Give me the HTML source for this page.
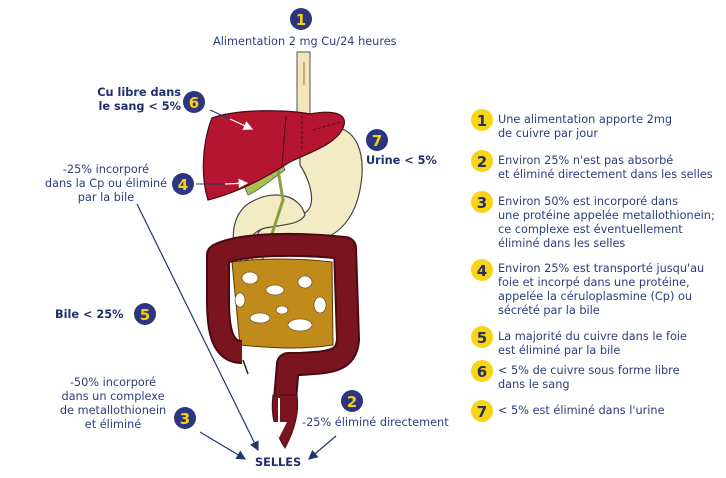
<!DOCTYPE html>
<html><head><meta charset="utf-8"><style>
body{margin:0;width:726px;height:478px;background:#fff;position:relative;overflow:hidden;font-family:"DejaVu Sans","Liberation Sans",sans-serif;color:#2c3d7c;font-size:11.3px}
.t{position:absolute;line-height:14px;white-space:nowrap}
.b{font-weight:bold;color:#1f2f6e}
.r{text-align:right}
.c{text-align:center}
</style></head><body>
<svg width="726" height="478" style="position:absolute;left:0;top:0">
<defs>
<marker id="a" markerWidth="8" markerHeight="8" refX="7" refY="4" orient="auto"><path d="M0,0 L8,4 L0,8 Z" fill="#24346f"/></marker>
<marker id="w" markerWidth="8" markerHeight="8" refX="7" refY="4" orient="auto"><path d="M0,0 L8,4 L0,8 Z" fill="#fff"/></marker>
</defs>
<rect x="297" y="52" width="13" height="100" fill="#efe6bb" stroke="#555" stroke-width="1"/>
<path d="M300,140 C330,115 365,125 362,175 C358,225 330,245 300,240 C280,238 265,245 262,262 L252,262 C250,225 275,215 300,215 C320,210 310,180 300,165 Z" fill="#f2ebc3" stroke="#444" stroke-width="1.2"/>
<path d="M255,200 C275,190 300,195 305,215 C300,225 280,225 265,228 C250,232 240,250 250,258 L242,262 C228,245 230,210 255,200 Z" fill="#f2ebc3" stroke="#444" stroke-width="1.2"/>
<path d="M243,183 C255,175 265,165 280,160 L285,170 C270,180 260,190 248,195 Z" fill="#a8c050" stroke="#555" stroke-width="0.8"/>
<path d="M278,170 L283,200 L270,240" stroke="#8aa040" stroke-width="3" fill="none"/>
<path d="M212,118 C240,108 290,110 310,114 C330,110 350,112 343,128 C335,145 310,152 290,162 C270,175 240,192 208,200 C200,175 203,140 212,118 Z" fill="#b51530" stroke="#4a0a14" stroke-width="1.2"/>
<path d="M286,116 L282,166" stroke="#4a0a14" stroke-width="1"/>
<path d="M302,116 L302,150 M313,130 L340,122" stroke="#4a0a14" stroke-width="1" stroke-dasharray="3,2"/>
<path d="M232,262 C260,258 300,258 332,262 L333,345 C300,350 270,348 240,345 Z" fill="#c18b1c" stroke="#5a3a05" stroke-width="1"/>
<g fill="#fff" stroke="#5a3a05" stroke-width="0.6"><ellipse cx="250" cy="278" rx="8" ry="6"/><ellipse cx="275" cy="290" rx="9" ry="5"/><ellipse cx="305" cy="282" rx="7" ry="6"/><ellipse cx="260" cy="318" rx="10" ry="5"/><ellipse cx="300" cy="325" rx="12" ry="6"/><ellipse cx="320" cy="305" rx="6" ry="8"/><ellipse cx="240" cy="300" rx="5" ry="7"/><ellipse cx="282" cy="310" rx="6" ry="4"/></g>
<path d="M242,352 C222,352 218,330 218,300 L218,255 C240,243 300,243 345,248 L348,340 C346,362 330,362 300,364 L288,364 L285,400" fill="none" stroke="#4a0a12" stroke-width="24" stroke-linejoin="round"/>
<path d="M242,352 C222,352 218,330 218,300 L218,255 C240,243 300,243 345,248 L348,340 C346,362 330,362 300,364 L288,364 L285,400" fill="none" stroke="#7a1520" stroke-width="20" stroke-linejoin="round"/>
<path d="M273,395 L297,395 C300,415 292,435 285,448 C276,435 270,415 273,395 Z" fill="#7a1520" stroke="#4a0a12"/>
<line x1="243" y1="360" x2="248" y2="374" stroke="#222" stroke-width="1.5"/>
<line x1="279" y1="398" x2="279" y2="436" stroke="#fff" stroke-width="2" marker-end="url(#w)"/>
<line x1="304" y1="62" x2="304" y2="85" stroke="#a06a40" stroke-width="1"/>
<line x1="210" y1="110" x2="230" y2="119" stroke="#24346f" stroke-width="1"/>
<line x1="230" y1="119" x2="252" y2="129" stroke="#fff" stroke-width="1.2" marker-end="url(#w)"/>
<line x1="196" y1="184" x2="225" y2="184" stroke="#24346f" stroke-width="1"/>
<line x1="225" y1="184" x2="247" y2="183" stroke="#fff" stroke-width="1.2" marker-end="url(#w)"/>
<line x1="137" y1="204" x2="258" y2="450" stroke="#24346f" stroke-width="1.2" marker-end="url(#a)"/>
<line x1="200" y1="432" x2="245" y2="459" stroke="#24346f" stroke-width="1.2" marker-end="url(#a)"/>
<line x1="336" y1="436" x2="309" y2="459" stroke="#24346f" stroke-width="1.2" marker-end="url(#a)"/>
<g fill="#2b3580" font-family="DejaVu Sans" font-weight="bold" font-size="15" text-anchor="middle">
<circle cx="301" cy="19" r="11"/><circle cx="194" cy="102" r="11"/><circle cx="183" cy="184" r="11"/><circle cx="145" cy="314" r="11"/><circle cx="185" cy="418" r="11"/><circle cx="352" cy="401" r="11"/><circle cx="377" cy="140" r="11"/>
<g fill="#f5d20a"><text x="301" y="25">1</text><text x="194" y="108">6</text><text x="183" y="190">4</text><text x="145" y="320">5</text><text x="185" y="424">3</text><text x="352" y="407">2</text><text x="377" y="146">7</text></g>
</g>
<g fill="#f7d414" font-family="DejaVu Sans" font-weight="bold" font-size="15" text-anchor="middle">
<circle cx="482" cy="120" r="11"/><circle cx="482" cy="161" r="11"/><circle cx="482" cy="202" r="11"/><circle cx="482" cy="270" r="11"/><circle cx="482" cy="337" r="11"/><circle cx="482" cy="371" r="11"/><circle cx="482" cy="411" r="11"/>
<g fill="#27305e"><text x="482" y="126">1</text><text x="482" y="167">2</text><text x="482" y="208">3</text><text x="482" y="276">4</text><text x="482" y="343">5</text><text x="482" y="377">6</text><text x="482" y="417">7</text></g>
</g>
</svg>
<div class="t" style="left:213px;top:35px">Alimentation 2 mg Cu/24 heures</div>
<div class="t b r" style="right:545px;top:86px">Cu libre dans<br>le sang &lt; 5%</div>
<div class="t c" style="left:40px;top:163px;width:132px">-25% incorporé<br>dans la Cp ou éliminé<br>par la bile</div>
<div class="t b" style="left:55px;top:308px">Bile &lt; 25%</div>
<div class="t c" style="left:50px;top:376px;width:126px">-50% incorporé<br>dans un complexe<br>de metallothionein<br>et éliminé</div>
<div class="t" style="left:302px;top:416px">-25% éliminé directement</div>
<div class="t b" style="left:255px;top:456px">SELLES</div>
<div class="t b" style="left:366px;top:154px">Urine &lt; 5%</div>
<div class="t" style="left:498px;top:113px">Une alimentation apporte 2mg<br>de cuivre par jour</div>
<div class="t" style="left:498px;top:154px">Environ 25% n'est pas absorbé<br>et éliminé directement dans les selles</div>
<div class="t" style="left:498px;top:195px">Environ 50% est incorporé dans<br>une protéine appelée metallothionein;<br>ce complexe est éventuellement<br>éliminé dans les selles</div>
<div class="t" style="left:498px;top:262px">Environ 25% est transporté jusqu'au<br>foie et incorpé dans une protéine,<br>appelée la céruloplasmine (Cp) ou<br>sécrété par la bile</div>
<div class="t" style="left:498px;top:330px">La majorité du cuivre dans le foie<br>est éliminé par la bile</div>
<div class="t" style="left:498px;top:364px">&lt; 5% de cuivre sous forme libre<br>dans le sang</div>
<div class="t" style="left:498px;top:404px">&lt; 5% est éliminé dans l'urine</div>
</body></html>
